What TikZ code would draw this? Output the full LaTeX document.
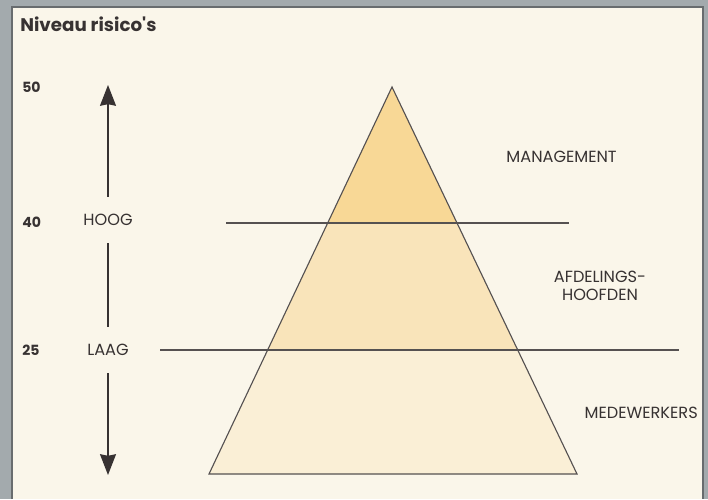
\documentclass[tikz,border=0pt]{standalone}
\usepackage{fontspec}
\setmainfont{Poppins}
\usetikzlibrary{arrows.meta}
\definecolor{frame}{RGB}{163,170,173}
\definecolor{edgegray}{RGB}{104,108,110}
\definecolor{paper}{RGB}{250,246,234}
\definecolor{ink}{RGB}{55,50,50}
\definecolor{bandtop}{RGB}{248,216,150}
\definecolor{bandmid}{RGB}{249,228,186}
\definecolor{bandlow}{RGB}{250,239,214}
\begin{document}
\begin{tikzpicture}
                [level/.style={font=\bfseries\fontsize{10}{11}\selectfont, text=ink, anchor=west, inner sep=0pt},
                 risk/.style={font=\fontsize{11.5}{13}\selectfont, text=ink, inner sep=0pt, minimum height=1.15cm},
                 group/.style={font=\fontsize{11.5}{13}\selectfont, text=ink, align=center, inner sep=0pt},
                 divider/.style={draw=ink!85, line width=0.8pt},
                 axis/.style={draw=ink, line width=0.9pt},
                 head/.style={-{Stealth[length=0.52cm, width=0.4cm, inset=0.04cm]}}]
                % Define background
                \fill[frame] (0,0) rectangle (17.7,12.475);
                \fill[paper] (0.3,0) rectangle (17.575,12.3);
                \draw[edgegray, line width=1.4pt] (0.3,0) -- (0.3,12.3) -- (17.575,12.3) -- (17.575,0);
                % Define pyramid
                \coordinate (apex) at (9.8,10.3);
                \coordinate (baseL) at (5.225,0.625);
                \coordinate (baseR) at (14.425,0.625);
                \begin{scope}
                  \clip (apex) -- (baseL) -- (baseR) -- cycle;
                  \fill[bandlow] (5,0.5) rectangle (15,3.725);
                  \fill[bandmid] (5,3.725) rectangle (15,6.9);
                  \fill[bandtop] (5,6.9) rectangle (15,10.5);
                \end{scope}
                \draw[divider] (apex) -- (baseL) -- (baseR) -- cycle;
                % Define dividing lines
                \coordinate (hiL) at (5.65,6.9);
                \coordinate (hiR) at (14.225,6.9);
                \coordinate (loL) at (4.0,3.725);
                \coordinate (loR) at (16.975,3.725);
                \draw[divider] (hiL) -- (hiR);
                \draw[divider] (loL) -- (loR);
                % Define nodes
                \node[level, font=\bfseries\fontsize{13}{15}\selectfont] (title) at (0.5,11.875) {Niveau risico\textquotesingle s};
                \node[level] (n50) at (0.55,10.3) {50};
                \node[level] (n40) at (0.55,6.925) {40};
                \node[level] (n25) at (0.55,3.725) {25};
                \node[risk] (hoog) at (2.7,6.975) {HOOG};
                \node[risk] (laag) at (2.7,3.725) {LAAG};
                \coordinate (top) at (2.7,10.35);
                \coordinate (bottom) at (2.7,0.6);
                \node[group] (mgmt) at (14.04,8.55) {MANAGEMENT};
                \node[group] (afd) at (15.0,5.325) {AFDELINGS-\\HOOFDEN};
                \node[group] (mdw) at (16.03,2.15) {MEDEWERKERS};
                % Define arrows
                \draw[axis, head] (hoog) -- (top);
                \draw[axis] (hoog) -- (laag);
                \draw[axis, head] (laag) -- (bottom);
            \end{tikzpicture}
\end{document}
